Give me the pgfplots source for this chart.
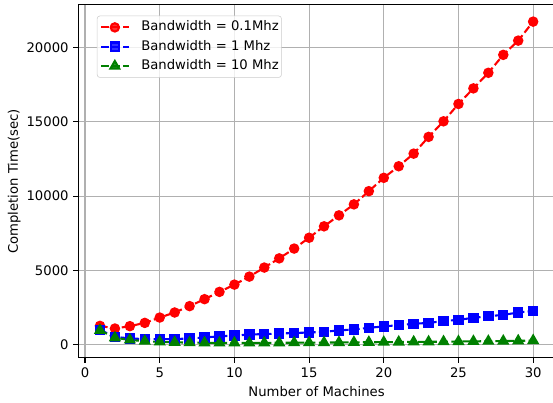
\documentclass[border=0pt]{standalone}
\usepackage{pgfplots}
\pgfplotsset{compat=1.18}
\usepackage{fontspec}
\setmainfont{DejaVu Sans}
\definecolor{mplgreen}{rgb}{0,0.5,0}
\begin{document}
\begin{tikzpicture}
\begin{axis}[
  name=main,
  scale only axis, width=343.1pt, height=254.2pt,
  xmin=-0.45, xmax=31.45, ymin=-900, ymax=22900,
  xtick={0,5,...,30}, ytick={0,5000,10000,15000,20000},
  scaled ticks=false,
  grid=major, grid style={color=black!31, line width=0.8pt},
  axis line style={line width=0.8pt},
  tick align=outside, tick pos=left, major tick length=3.5pt,
  tick style={line width=0.8pt, black},
  /pgf/number format/assume math mode=true,
  /pgf/number format/1000 sep={},
  ticklabel style={font=\fontsize{9.5}{11.4}\selectfont},
  label style={font=\fontsize{9.5}{11.4}\selectfont},
  xlabel={Number of Machines}, ylabel={Completion Time(sec)},
  xlabel style={at={(axis description cs:0.5,0)}, anchor=base, yshift=-27.6pt},
  ylabel style={at={(axis description cs:0,0.5)}, anchor=south, yshift=38pt},
  legend style={at={(0.039,0.969)}, anchor=north west, draw=black!20, rounded corners=2pt,
    fill=white, fill opacity=0.8, text opacity=1, font=\fontsize{9.5}{11.4}\selectfont,
    inner xsep=2pt, inner ysep=1.5pt, row sep=0.4pt, column sep=0pt,
    nodes={inner xsep=0pt, inner ysep=2pt, text height=7.3pt, text depth=2.2pt},
    cells={anchor=west}},
  legend image code/.code={\draw[mark repeat=2,mark phase=2] plot coordinates {(0cm,0cm) (0.35cm,0cm) (0.7cm,0cm)}; \path (28.3pt,0cm);},
  every axis plot/.append style={line width=1.5pt, dash pattern=on 5.55pt off 2.4pt},
]
\addplot[color=red, mark=*, mark size=3pt, mark options={solid}] coordinates {
(1,1250)(2,1070)(3,1230)(4,1450)(5,1810)(6,2150)(7,2580)(8,3050)(9,3540)(10,4030)
(11,4570)(12,5180)(13,5800)(14,6460)(15,7190)(16,7960)(17,8700)(18,9440)(19,10330)(20,11230)
(21,12010)(22,12860)(23,13990)(24,15040)(25,16210)(26,17260)(27,18310)(28,19520)(29,20480)(30,21760)};
\addlegendentry{Bandwidth = 0.1Mhz}
\addplot[color=blue, mark=square*, mark size=3pt, mark options={solid}] coordinates {
(1,980)(2,510)(3,400)(4,360)(5,350)(6,360)(7,400)(8,470)(9,540)(10,600)
(11,660)(12,700)(13,730)(14,770)(15,800)(16,850)(17,940)(18,1010)(19,1120)(20,1210)
(21,1300)(22,1390)(23,1450)(24,1570)(25,1660)(26,1790)(27,1900)(28,1990)(29,2150)(30,2260)};
\addlegendentry{Bandwidth = 1 Mhz}
\addplot[color=mplgreen, mark=triangle*, mark size=3.6pt, mark options={solid}] coordinates {
(1,950)(2,450)(3,300)(4,220)(5,170)(6,140)(7,120)(8,110)(9,100)(10,100)
(11,100)(12,105)(13,110)(14,115)(15,120)(16,125)(17,130)(18,140)(19,145)(20,150)
(21,160)(22,170)(23,175)(24,185)(25,195)(26,205)(27,215)(28,225)(29,240)(30,260)};
\addlegendentry{Bandwidth = 10 Mhz}
\end{axis}
\pgfresetboundingbox
\path ([xshift=-56.4pt,yshift=-31.9pt]main.south west) rectangle ([xshift=-1.3pt,yshift=3.4pt]main.north east);
\end{tikzpicture}
\end{document}
